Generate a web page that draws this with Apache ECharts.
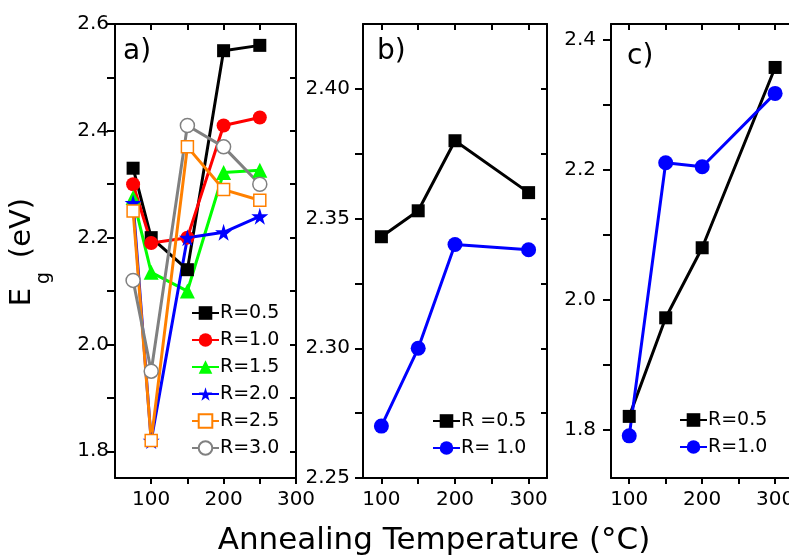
<!DOCTYPE html>
<html>
<head>
<meta charset="utf-8">
<script src="https://cdn.jsdelivr.net/npm/echarts@6/dist/echarts.min.js"></script>
<style>
html,body{margin:0;padding:0;background:#fff;}
#chart{width:789px;height:558px;}
</style>
</head>
<body>
<div id="chart"></div>
<script>
// ---- data ----
const tempA = [75, 100, 150, 200, 250];
const aR05 = [2.33, 2.20, 2.14, 2.55, 2.56];
const aR10 = [2.30, 2.19, 2.20, 2.41, 2.425];
const aR15 = [2.275, 2.135, 2.10, 2.322, 2.326];
const aR20 = [2.265, 1.82, 2.20, 2.21, 2.24];
const aR25 = [2.25, 1.82, 2.37, 2.29, 2.27];
const aR30 = [2.12, 1.95, 2.41, 2.37, 2.30];

const tempB = [100, 150, 200, 300];
const bR05 = [2.343, 2.353, 2.38, 2.36];
const bR10 = [2.27, 2.30, 2.34, 2.338];

const tempC = [100, 150, 200, 300];
const cR05 = [1.82, 1.972, 2.08, 2.358];
const cR10 = [1.79, 2.211, 2.205, 2.318];

const legendA = ['R=0.5', 'R=1.0', 'R=1.5', 'R=2.0', 'R=2.5', 'R=3.0'];
const legendB = ['R =0.5', 'R= 1.0'];
const legendC = ['R=0.5', 'R=1.0'];

const xTicks = [100, 150, 200, 250, 300];
const xLabels = [100, 200, 300];
const aYTicks = [1.8, 1.9, 2.0, 2.1, 2.2, 2.3, 2.4, 2.5, 2.6];
const aYLabels = [1.8, 2.0, 2.2, 2.4, 2.6];
const bYTicks = [2.25, 2.275, 2.3, 2.325, 2.35, 2.375, 2.4];
const bYLabels = [2.25, 2.30, 2.35, 2.40];
const cYTicks = [1.8, 1.9, 2.0, 2.1, 2.2, 2.3, 2.4];
const cYLabels = [1.8, 2.0, 2.2, 2.4];

const xTitle = 'Annealing Temperature (°C)';

// ---- build ----
const FONT = 'DejaVu Sans';
const zip = (xs, ys) => xs.map((x, i) => [x, ys[i]]);

const ranges = [
  {x: [50, 300], y: [1.75, 2.6], yt: aYTicks, yl: aYLabels, dec: 1, ym: 6},
  {x: [75, 325], y: [2.25, 2.425], yt: bYTicks, yl: bYLabels, dec: 2, ym: 13},
  {x: [75, 330], y: [1.725, 2.425], yt: cYTicks, yl: cYLabels, dec: 1, ym: 15}
];
const grids = [
  {left: 115, top: 24, width: 181, height: 454, outerBoundsMode: 'none', containLabel: false},
  {left: 363, top: 24, width: 184, height: 454, outerBoundsMode: 'none', containLabel: false},
  {left: 611, top: 24, width: 186, height: 454, outerBoundsMode: 'none', containLabel: false}
];

const axLine = {show: true, onZero: false, lineStyle: {color: '#000', width: 2}};
const xAxes = [], yAxes = [];
ranges.forEach((r, i) => {
  xAxes.push({
    type: 'value', gridIndex: i, position: 'bottom', min: r.x[0], max: r.x[1],
    axisLine: axLine,
    axisTick: {show: true, inside: false, length: 6, lineStyle: {color: '#000', width: 2}, customValues: xTicks},
    axisLabel: {show: true, customValues: xLabels, fontFamily: FONT, fontSize: 20, color: '#000', margin: 12},
    splitLine: {show: false}
  });
  xAxes.push({
    type: 'value', gridIndex: i, position: 'top', min: r.x[0], max: r.x[1],
    axisLine: axLine,
    axisTick: {show: true, inside: true, length: 6, lineStyle: {color: '#000', width: 2}, customValues: xTicks},
    axisLabel: {show: false},
    splitLine: {show: false}
  });
  yAxes.push({
    type: 'value', gridIndex: i, position: 'left', min: r.y[0], max: r.y[1],
    axisLine: axLine,
    axisTick: {show: true, inside: false, length: 8, lineStyle: {color: '#000', width: 2}, customValues: r.yt},
    axisLabel: {show: true, customValues: r.yl, fontFamily: FONT, fontSize: 20, color: '#000', margin: r.ym,
      formatter: v => Number(v).toFixed(r.dec)},
    splitLine: {show: false}
  });
  yAxes.push({
    type: 'value', gridIndex: i, position: 'right', min: r.y[0], max: r.y[1],
    axisLine: axLine,
    axisTick: {show: true, inside: true, length: 6, lineStyle: {color: '#000', width: 2}, customValues: r.yt},
    axisLabel: {show: false},
    splitLine: {show: false}
  });
});

function mk(name, grid, xs, ys, color, symbol, size, hollow) {
  return {
    type: 'line', name: name, xAxisIndex: grid * 2, yAxisIndex: grid * 2,
    data: zip(xs, ys), symbol: symbol, symbolSize: size, showSymbol: true,
    lineStyle: {color: color, width: 3},
    itemStyle: hollow ? {color: '#fff', borderColor: color, borderWidth: 1.5}
                      : {color: color, borderColor: color, borderWidth: 0},
    animation: false, z: 2
  };
}
const star = 'path://M50,0 L61,35 L98,35 L68,57 L79,91 L50,70 L21,91 L32,57 L2,35 L39,35 Z';

const series = [
  mk('a0', 0, tempA, aR05, '#000000', 'rect', 13, false),
  mk('a1', 0, tempA, aR10, '#ff0000', 'circle', 14, false),
  mk('a2', 0, tempA, aR15, '#00ff00', 'triangle', 15, false),
  mk('a3', 0, tempA, aR20, '#0000ff', star, 17, false),
  mk('a4', 0, tempA, aR25, '#ff8000', 'rect', 12, true),
  mk('a5', 0, tempA, aR30, '#808080', 'circle', 14, true),
  mk('b0', 1, tempB, bR05, '#000000', 'rect', 13, false),
  mk('b1', 1, tempB, bR10, '#0000ff', 'circle', 15, false),
  mk('c0', 2, tempC, cR05, '#000000', 'rect', 13, false),
  mk('c1', 2, tempC, cR10, '#0000ff', 'circle', 15, false)
];

const labelMap = {
  a0: legendA[0], a1: legendA[1], a2: legendA[2], a3: legendA[3], a4: legendA[4], a5: legendA[5],
  b0: legendB[0], b1: legendB[1], c0: legendC[0], c1: legendC[1]
};
function lg(data, left, top) {
  return {
    data: data, left: left, top: top, orient: 'vertical', itemWidth: 27, itemHeight: 17, itemGap: 5,
    formatter: n => labelMap[n], selectedMode: false,
    textStyle: {fontFamily: FONT, fontSize: 19, color: '#000', lineHeight: 22, padding: [0, 0, 0, -4]},
    padding: 0
  };
}

const option = {
  backgroundColor: '#fff',
  animation: false,
  grid: grids,
  xAxis: xAxes,
  yAxis: yAxes,
  series: series,
  legend: [
    lg(['a0', 'a1', 'a2', 'a3', 'a4', 'a5'], 191, 302),
    lg(['b0', 'b1'], 432, 410),
    lg(['c0', 'c1'], 679, 409)
  ],
  graphic: [
    {type: 'text', left: 123, top: 38, style: {text: 'a)', font: '28px "DejaVu Sans"', fill: '#000'}},
    {type: 'text', left: 377, top: 38, style: {text: 'b)', font: '28px "DejaVu Sans"', fill: '#000'}},
    {type: 'text', left: 627, top: 43, style: {text: 'c)', font: '28px "DejaVu Sans"', fill: '#000'}},
    {type: 'text', x: 434, y: 541, style: {text: xTitle, font: '31px "DejaVu Sans"', fill: '#000', align: 'center', verticalAlign: 'middle'}},
    {type: 'text', x: 22, y: 297, rotation: Math.PI / 2, style: {text: 'E', font: '29px "DejaVu Sans"', fill: '#000', align: 'center', verticalAlign: 'middle'}},
    {type: 'text', x: 44, y: 278, rotation: Math.PI / 2, style: {text: 'g', font: '19px "DejaVu Sans"', fill: '#000', align: 'center', verticalAlign: 'middle'}},
    {type: 'text', x: 22, y: 228, rotation: Math.PI / 2, style: {text: '(eV)', font: '29px "DejaVu Sans"', fill: '#000', align: 'center', verticalAlign: 'middle'}}
  ]
};

const chart = echarts.init(document.getElementById('chart'), null, {renderer: 'canvas'});
chart.setOption(option);
</script>
</body>
</html>
